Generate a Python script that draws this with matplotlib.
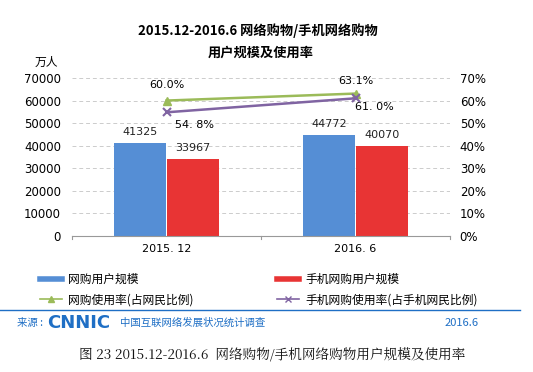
import matplotlib
matplotlib.use("Agg")
import matplotlib.pyplot as plt
from matplotlib.lines import Line2D
import numpy as np

plt.rcParams['font.family'] = ['Noto Sans CJK SC', 'DejaVu Sans']

categories = ["2015. 12", "2016. 6"]
users = [41325, 44772]
mobile_users = [33967, 40070]
rate = [60.0, 63.1]
mobile_rate = [54.8, 61.0]
rate_labels = ["60.0%", "63.1%"]
mobile_rate_labels = ["54. 8%", "61. 0%"]
left_ticks = [0, 10000, 20000, 30000, 40000, 50000, 60000, 70000]
right_ticks = [0, 10, 20, 30, 40, 50, 60, 70]

BLUE = "#558ED5"
RED = "#E83434"
GREEN = "#9BBB59"
PURPLE = "#8064A2"
CNNIC = "#1F6FC5"

fig = plt.figure(figsize=(5.33, 3.72), dpi=100)
fig.patch.set_facecolor("white")

ax = fig.add_axes([72 / 533, 1 - 236 / 372, 378 / 533, 158 / 372])
ax.set_facecolor("none")
x = np.arange(len(categories))
w = 0.275
b1 = ax.bar(x - w / 2 - 0.003, users, w, color=BLUE, zorder=3)
b2 = ax.bar(x + w / 2 + 0.003, mobile_users, w, color=RED, zorder=3)
for rect, v in zip(b1, users):
    ax.text(rect.get_x() + rect.get_width() / 2, v + 2600, str(v), ha="center",
            va="bottom", fontsize=8, color="#222222", family="DejaVu Sans")
for rect, v in zip(b2, mobile_users):
    ax.text(rect.get_x() + rect.get_width() / 2, v + 2600, str(v), ha="center",
            va="bottom", fontsize=8, color="#222222", family="DejaVu Sans")

ax.set_xlim(-0.5, 1.5)
ax.set_ylim(0, 70000)
ax.set_yticks(left_ticks)
ax.set_yticklabels([str(t) for t in left_ticks], fontsize=8.5, family="DejaVu Sans")
ax.set_xticks(x)
ax.set_xticklabels(categories, fontsize=8, family="DejaVu Sans")
ax.tick_params(axis="y", length=0, pad=8)
ax.tick_params(axis="x", length=0, pad=6)
for t in [-0.5, 0.5, 1.5]:
    ax.plot([t, t], [0, -1200], color="#999999", lw=0.8, clip_on=False, zorder=4)
ax.grid(axis="y", linestyle=(0, (4, 3)), color="#cccccc", lw=0.7, zorder=0)
for s in ["top", "right", "left"]:
    ax.spines[s].set_visible(False)
ax.spines["bottom"].set_color("#999999")
ax.spines["bottom"].set_linewidth(0.8)
ax.spines["bottom"].set_zorder(4)

ax2 = ax.twinx()
ax2.set_ylim(0, 70)
ax2.set_yticks(right_ticks)
ax2.set_yticklabels([f"{t}%" for t in right_ticks], fontsize=8.5, family="DejaVu Sans")
ax2.tick_params(axis="y", length=0, pad=7)
for s in ["top", "right", "left", "bottom"]:
    ax2.spines[s].set_visible(False)
ax2.plot(x, rate, color=GREEN, lw=1.8, marker="^", ms=6, zorder=5)
ax2.plot(x, mobile_rate, color=PURPLE, lw=1.8, marker="x", ms=6, mew=1.5, zorder=5)
ax2.text(x[0], rate[0] + 4.5, rate_labels[0], ha="center", va="bottom", fontsize=8, family="DejaVu Sans")
ax2.text(x[1], rate[1] + 3.5, rate_labels[1], ha="center", va="bottom", fontsize=8, family="DejaVu Sans")
ax2.text(x[0] + 0.045, mobile_rate[0] - 3.5, mobile_rate_labels[0], ha="left", va="top", fontsize=8, family="DejaVu Sans")
ax2.text(x[1] - 0.005, mobile_rate[1] - 1.8, mobile_rate_labels[1], ha="left", va="top", fontsize=8, family="DejaVu Sans")

fig.text(0.483, 0.918, "2015.12-2016.6 网络购物/手机网络购物", ha="center", va="center",
         fontsize=9.5, fontweight="bold")
fig.text(0.49, 0.858, "用户规模及使用率", ha="center", va="center",
         fontsize=9.5, fontweight="bold")
fig.text(0.086, 0.833, "万人", ha="center", va="center", fontsize=8.5)

# legend: two columns placed explicitly
leg_kw = dict(loc="upper left", frameon=False, fontsize=8.5, handlelength=1.9,
              handletextpad=0.5, labelspacing=0.6, borderpad=0, borderaxespad=0)
col1_handles = [Line2D([0], [0], color=BLUE, lw=4),
                Line2D([0], [0], color=GREEN, lw=1.2, marker="^", ms=4)]
col1_labels = ["网购用户规模", "网购使用率(占网民比例)"]
col2_handles = [Line2D([0], [0], color=RED, lw=4),
                Line2D([0], [0], color=PURPLE, lw=1.2, marker="x", ms=4)]
col2_labels = ["手机网购用户规模", "手机网购使用率(占手机网民比例)"]
fig.legend(col1_handles, col1_labels, bbox_to_anchor=(40 / 533, 1 - 273 / 372), **leg_kw)
fig.legend(col2_handles, col2_labels, bbox_to_anchor=(277 / 533, 1 - 273 / 372), **leg_kw)

fig.add_artist(Line2D([0.0, 0.975], [1 - 310 / 372, 1 - 310 / 372], color=CNNIC, lw=1.0))
fig.text(0.032, 0.132, "来源 :", ha="left", va="center", fontsize=7.5, color=CNNIC)
fig.text(0.088, 0.132, "CNNIC", ha="left", va="center", fontsize=13, fontweight="bold",
         color=CNNIC, family="DejaVu Sans")
fig.text(0.225, 0.132, "中国互联网络发展状况统计调查", ha="left", va="center", fontsize=7.5, color=CNNIC)
fig.text(0.898, 0.132, "2016.6", ha="right", va="center", fontsize=8, color=CNNIC)

fig.text(0.51, 0.045, "图 23 2015.12-2016.6  网络购物/手机网络购物用户规模及使用率",
         ha="center", va="center", fontsize=9.8, color="#111111",
         family=["Noto Serif CJK SC", "Liberation Serif", "Noto Sans CJK SC"])

fig.savefig("out.png", dpi=100, facecolor="white")
